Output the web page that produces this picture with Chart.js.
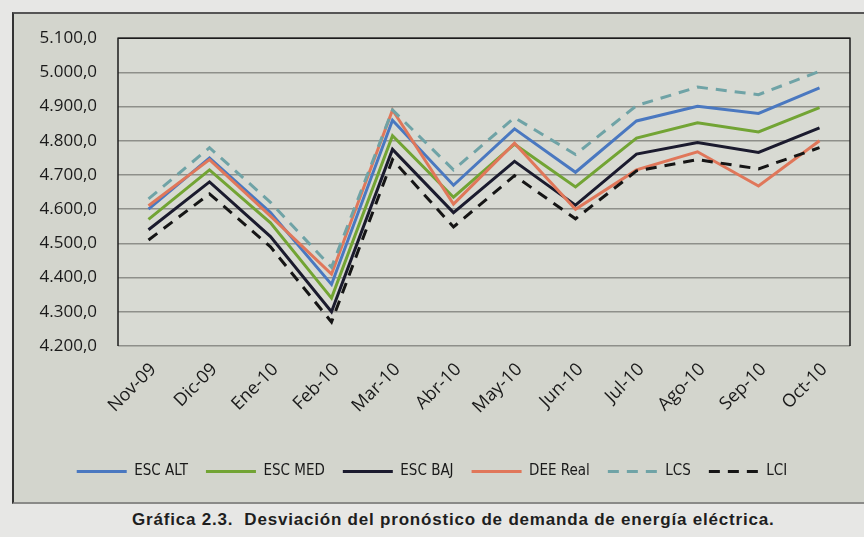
<!DOCTYPE html>
<html>
<head>
<meta charset="utf-8">
<script src="https://cdn.jsdelivr.net/npm/chart.js@4.4.1/dist/chart.umd.min.js"></script>
<style>
  body { margin: 0; width: 864px; height: 537px; overflow: hidden; background: #e7e7e5; position: relative; }
  #frame { position: absolute; left: 12px; top: 12px; width: 870px; height: 488px; background: #d3d5cd;
           border-left: 2px solid #333; border-top: 2px solid #555; border-bottom: 2px solid #8a8a88; }
  #wrap { position: absolute; left: 14px; top: 7px; width: 850px; height: 488px; }
  #cap { position: absolute; left: 132px; top: 510px; font: bold 17px "Liberation Sans", Arial, sans-serif; letter-spacing: 0.8px; color: #1e1e1e; white-space: pre; }
</style>
</head>
<body>
<div id="frame"></div>
<div id="wrap"><canvas id="chart"></canvas></div>
<div id="cap">Gráfica 2.3.  Desviación del pronóstico de demanda de energía eléctrica.</div>
<script>
const categories = ['Nov-09', 'Dic-09', 'Ene-10', 'Feb-10', 'Mar-10', 'Abr-10', 'May-10', 'Jun-10', 'Jul-10', 'Ago-10', 'Sep-10', 'Oct-10'];
const escAlt  = [4600, 4750, 4590, 4380, 4860, 4670, 4835, 4708, 4858, 4901, 4880, 4955];
const escMed  = [4570, 4715, 4560, 4340, 4815, 4635, 4790, 4665, 4808, 4853, 4826, 4897];
const escBaj  = [4540, 4680, 4520, 4300, 4775, 4590, 4740, 4612, 4761, 4795, 4766, 4838];
const deeReal = [4610, 4745, 4580, 4410, 4890, 4615, 4793, 4600, 4715, 4768, 4668, 4800];
const lcs     = [4630, 4780, 4620, 4430, 4890, 4715, 4868, 4760, 4903, 4957, 4935, 5003];
const lci     = [4510, 4645, 4490, 4270, 4745, 4548, 4698, 4572, 4712, 4745, 4718, 4780];
const yMin = 4200, yMax = 5100, yStep = 100;

// 5100 -> "5.100,0"
const fmt = v => String(Math.round(v)).replace(/\B(?=(\d{3})+(?!\d))/g, '.') + ',0';

const plotFrame = {
  id: 'plotFrame',
  beforeDraw(chart) {
    const { ctx, chartArea: a } = chart;
    ctx.save();
    ctx.fillStyle = '#d8dad3';
    ctx.fillRect(a.left, a.top, a.right - a.left, a.bottom - a.top);
    ctx.restore();
  },
  afterDraw(chart) {
    const { ctx, chartArea: a } = chart;
    ctx.save();
    ctx.strokeStyle = '#1c1c1c';
    ctx.lineWidth = 1.5;
    ctx.beginPath();
    ctx.moveTo(a.left, a.bottom);
    ctx.lineTo(a.left, a.top);
    ctx.lineTo(a.right, a.top);
    ctx.lineTo(a.right, a.bottom);
    ctx.stroke();
    ctx.restore();
  }
};

const line = (label, data, color, order, dash) => ({
  label, data, order,
  borderColor: color,
  backgroundColor: color,
  borderWidth: 3,
  borderDash: dash || [],
  pointRadius: 0,
  tension: 0,
  fill: false
});

new Chart(document.getElementById('chart'), {
  type: 'line',
  data: {
    labels: categories,
    datasets: [
      line('ESC ALT', escAlt, '#4a78c0', 6),
      line('ESC MED', escMed, '#72a434', 5),
      line('ESC BAJ', escBaj, '#1b1b2e', 4),
      line('DEE Real', deeReal, '#e0775a', 3),
      line('LCS', lcs, '#6fa3a6', 2, [11, 8]),
      line('LCI', lci, '#151515', 1, [11, 8])
    ]
  },
  options: {
    responsive: true,
    maintainAspectRatio: false,
    animation: false,
    layout: { padding: { top: 16, right: 14, left: 0, bottom: 6 } },
    plugins: {
      legend: {
        position: 'bottom',
        labels: {
          usePointStyle: true,
          pointStyle: 'line',
          pointStyleWidth: 50,
          boxHeight: 12,
          padding: 18,
          color: '#1a1a1a',
          font: { family: '"Liberation Sans Narrow", "DejaVu Sans Condensed", sans-serif', size: 15 },
          sort: (a, b) => a.datasetIndex - b.datasetIndex,
          // keep each series' dash pattern in its legend line
          generateLabels: chart => Chart.defaults.plugins.legend.labels.generateLabels(chart)
            .map(l => ({ ...l, lineDash: chart.data.datasets[l.datasetIndex].borderDash }))
        }
      },
      tooltip: { enabled: false }
    },
    scales: {
      x: {
        offset: true,
        grid: { display: false },
        border: { display: false },
        ticks: {
          minRotation: 45, maxRotation: 45, autoSkip: false, padding: 5, labelOffset: 5,
          color: '#1a1a1a',
          font: { family: '"Open Sans", sans-serif', size: 18 }
        },
        afterFit: s => { s.height = 100; }
      },
      y: {
        min: yMin, max: yMax,
        grid: { color: '#8e8f8a', lineWidth: 1.5, drawTicks: false },
        border: { display: false },
        ticks: {
          stepSize: yStep, padding: 21,
          color: '#1a1a1a',
          font: { family: '"Open Sans", sans-serif', size: 17 },
          callback: v => fmt(v)
        },
        afterFit: s => { s.width = 104; }
      }
    }
  },
  plugins: [plotFrame]
});
</script>
</body>
</html>
